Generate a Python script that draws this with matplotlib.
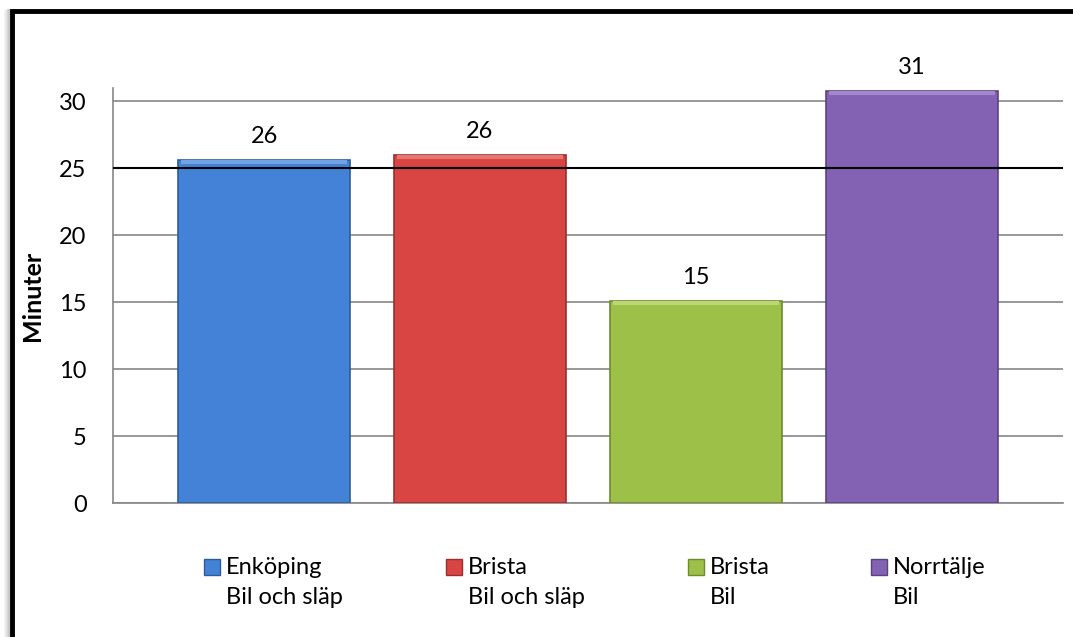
import matplotlib.pyplot as plt
from matplotlib.patches import Rectangle
from matplotlib.lines import Line2D
import numpy as np

# data
places = ["Enköping", "Brista", "Brista", "Norrtälje"]
vehicles = ["Bil och släp", "Bil och släp", "Bil", "Bil"]
minutes = [25.6, 26.0, 15.1, 30.8]
value_labels = ["26", "26", "15", "31"]
target = 25
colors = ["#4382D6", "#D84542", "#9DC148", "#8361B3"]
lights = ["#6FA3E6", "#E87774", "#BBD873", "#A386CC"]
edges = ["#2E5C98", "#99302E", "#6F8A30", "#5B437E"]

plt.rcParams['font.family'] = ['Lato', 'DejaVu Sans']

W, H = 1073, 637
fig = plt.figure(figsize=(W / 100, H / 100), dpi=100)
fig.patch.set_facecolor("white")

# plot area in pixels: left 113, right 1063, top 88, bottom 503
ax = fig.add_axes([113 / W, (H - 503) / H, 950 / W, (503 - 88) / H])

x = np.arange(len(places)) - 1.5
ax.bar(x, minutes, width=0.796, color=colors, edgecolor=edges, linewidth=1.2, zorder=3)
# light bevel at the top of each bar
ax.bar(x, [0.3] * 4, bottom=np.array(minutes) - 0.3, width=0.77, color=lights,
       linewidth=0, zorder=3.5)

for xi, v, lab in zip(x, minutes, value_labels):
    ax.annotate(lab, (xi, v), xytext=(0, 17), textcoords="offset points",
                ha="center", va="center", fontsize=17)

ax.axhline(target, color="black", linewidth=1.5, zorder=4)

ax.set_xlim(-2.2, 2.2)
ax.set_ylim(0, 31)
ax.set_yticks(range(0, 31, 5))
ax.set_xticks([])
ax.grid(axis="y", color="#868686", linewidth=1.2, zorder=0)
for s in ["top", "right"]:
    ax.spines[s].set_visible(False)
for s in ["left", "bottom"]:
    ax.spines[s].set_color("#868686")
    ax.spines[s].set_linewidth(1.2)
ax.tick_params(axis="y", length=0, labelsize=17, pad=19)
ax.set_ylabel("Minuter", fontsize=18, fontweight="bold", labelpad=11)

# legend drawn by hand: marker next to the first line, second line below
leg_x = [204, 446, 688, 871]
for lx, c, e, p, v in zip(leg_x, colors, edges, places, vehicles):
    fig.add_artist(Rectangle((lx / W, 1 - 575 / H), 16 / W, 16 / H, transform=fig.transFigure,
                             facecolor=c, edgecolor=e, linewidth=1))
    fig.text((lx + 22) / W, 1 - 567 / H, p, fontsize=17, va="center", ha="left")
    fig.text((lx + 22) / W, 1 - 597 / H, v, fontsize=17, va="center", ha="left")

# outer frame with soft shadow on the left
for i, a in enumerate([0.04, 0.07, 0.1, 0.14, 0.18, 0.22]):
    fig.add_artist(Line2D([(i + 3.5) / W] * 2, [0, 1 - (10 - i * 0.2) / H],
                          transform=fig.transFigure, color="black", alpha=a, linewidth=0.8))
fig.add_artist(Line2D([11.5 / W, 11.5 / W, 1.01], [0, 1 - 10.5 / H, 1 - 10.5 / H],
                      transform=fig.transFigure, color="black", linewidth=3.5,
                      solid_joinstyle="miter"))

fig.savefig("out.png", dpi=100)
